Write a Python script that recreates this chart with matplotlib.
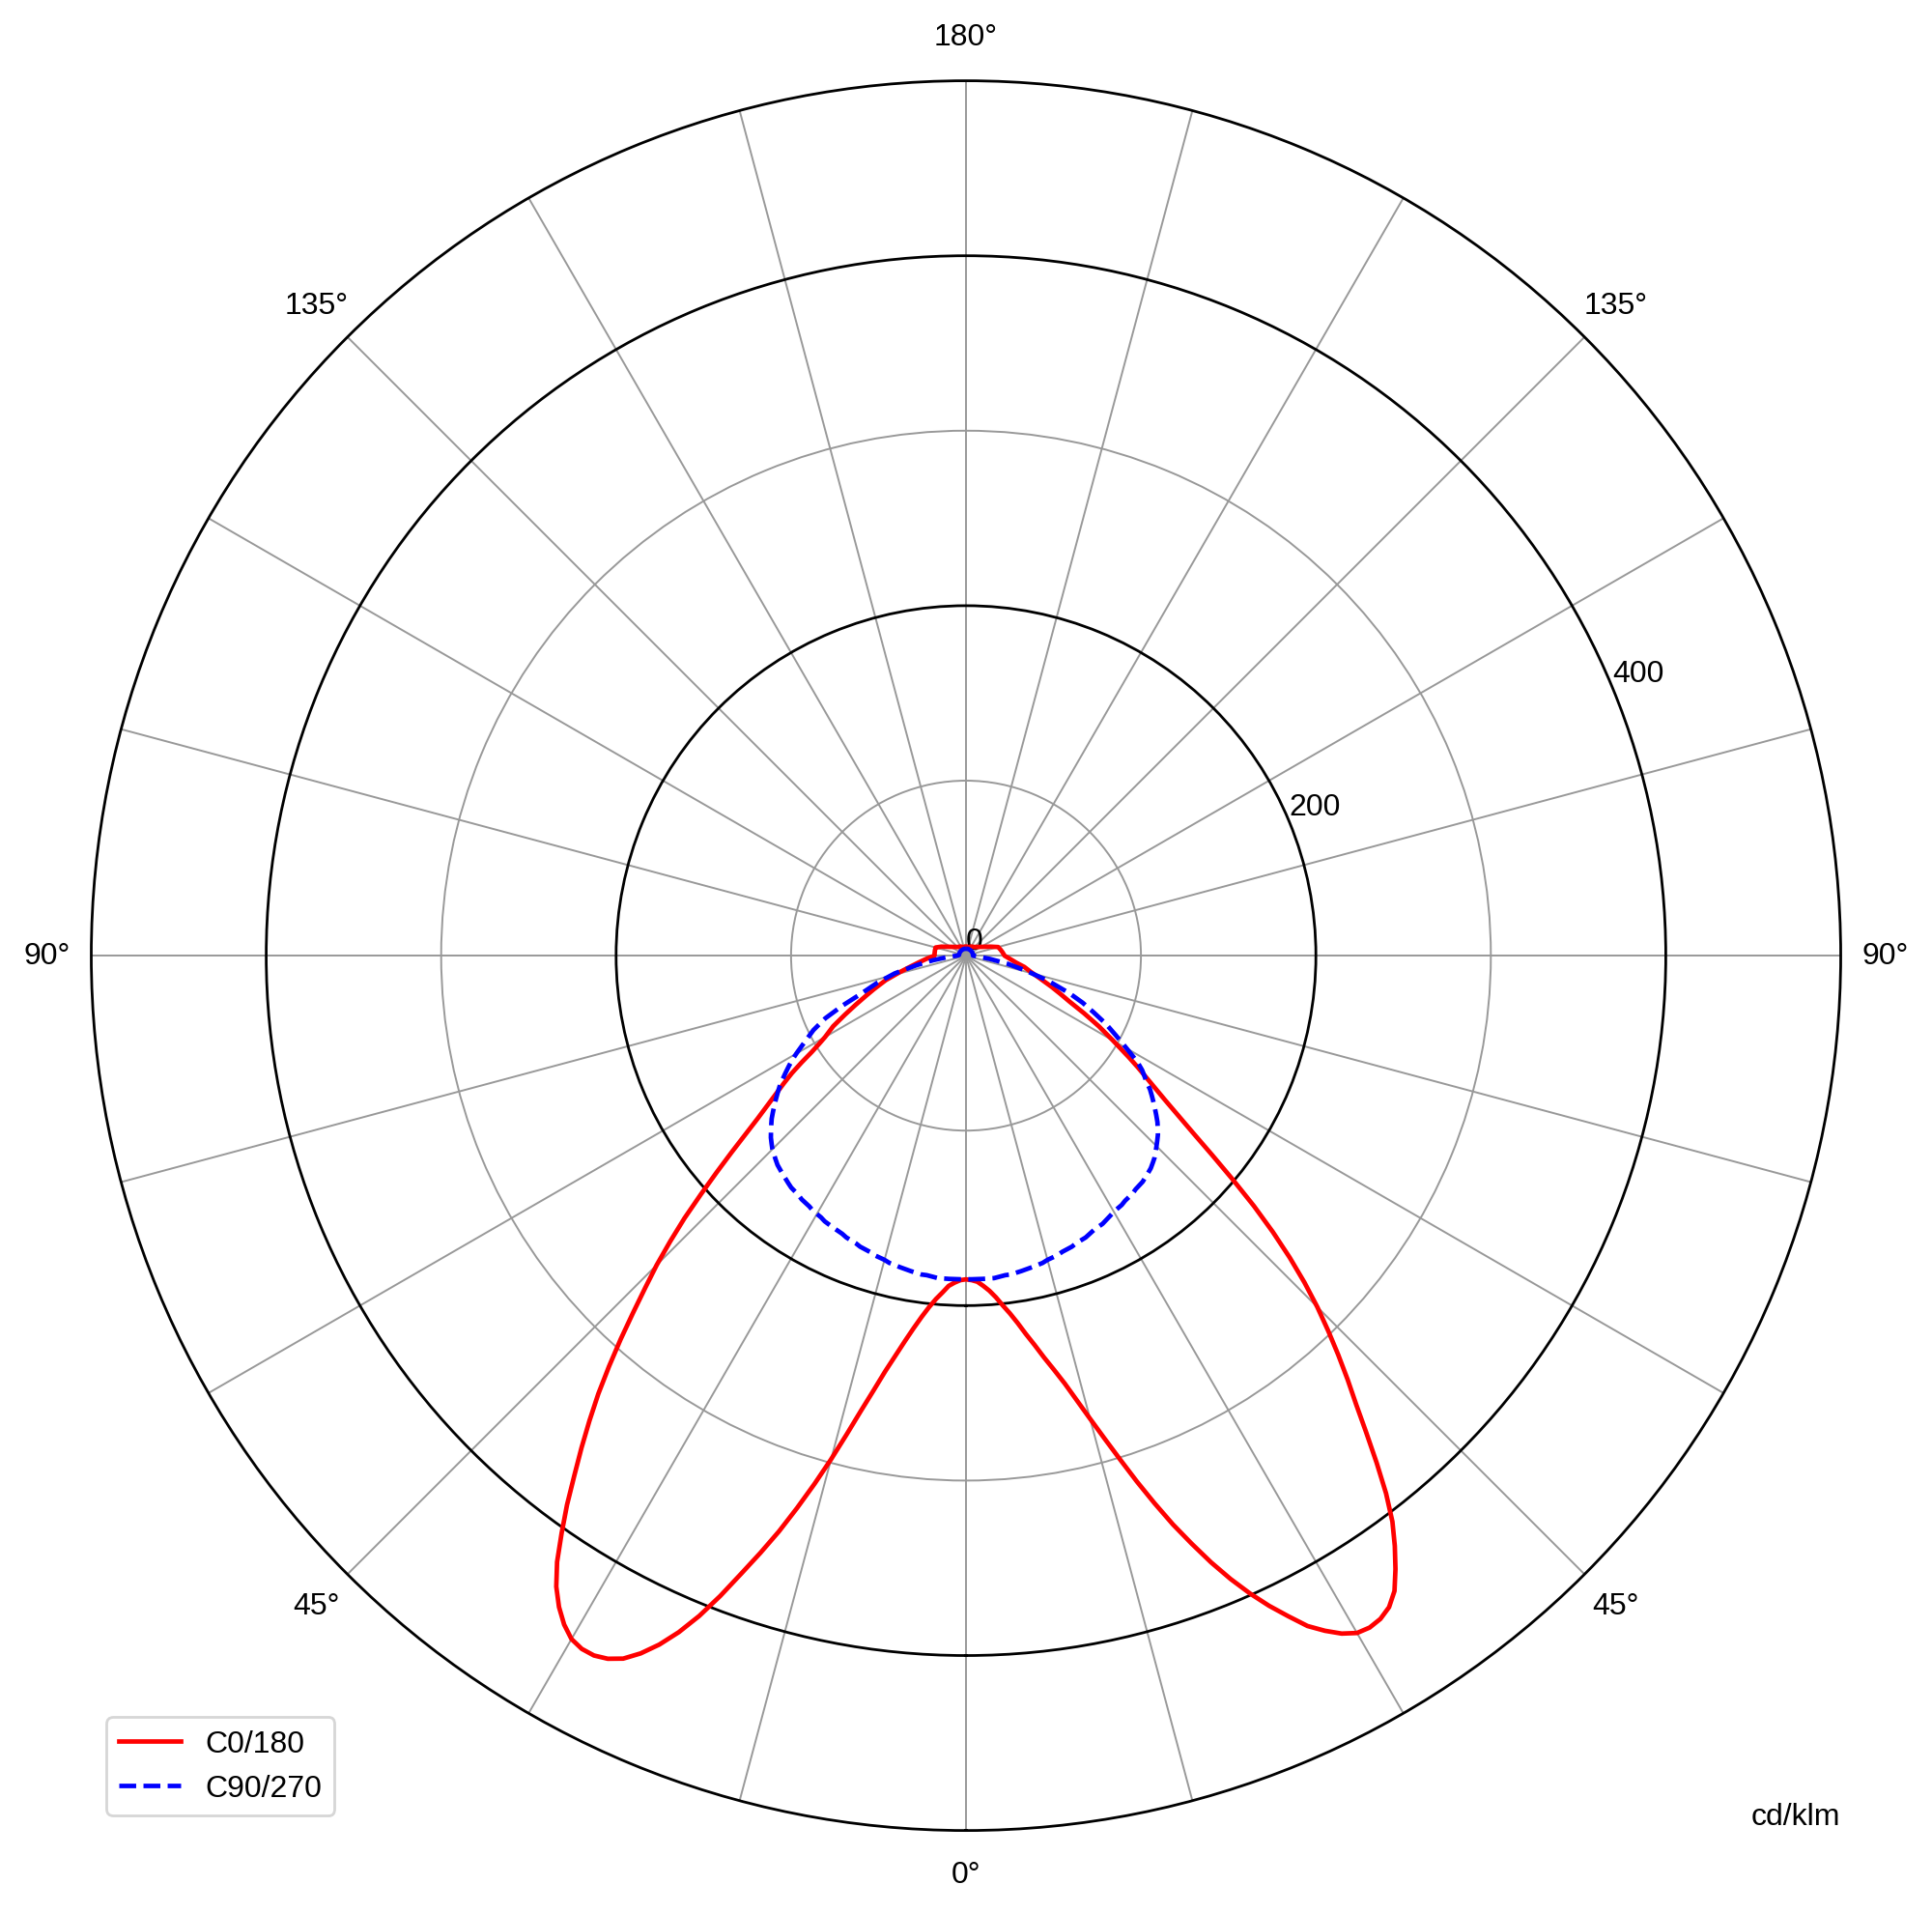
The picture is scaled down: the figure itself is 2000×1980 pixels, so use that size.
import numpy as np
import matplotlib
matplotlib.use("Agg")
import matplotlib.pyplot as plt

plt.rcParams['font.family'] = ['Liberation Sans', 'DejaVu Sans']

# gamma angles (degrees from nadir)
gamma = list(range(0, 61)) + [62, 64, 66, 68, 70, 73, 76, 79, 82, 86, 90, 95, 100,
                              105, 110, 120, 135, 150, 165, 180]

# C0/180 plane, cd/klm: C0 half (right) and C180 half (left)
c0 = [185, 185.5, 186.5, 189, 192, 196, 201, 206, 212, 219,
      226, 234, 242, 251, 262, 274, 287, 301, 316, 331,
      346, 360, 374, 387, 399, 410, 420, 430, 437, 443,
      447, 448, 447, 444, 438, 428, 417, 405, 390, 373,
      356, 340, 326, 312, 298, 284, 269, 253, 236, 218,
      199, 181, 165, 152, 141, 132, 124, 117, 110, 103,
      97,
      86, 75, 65, 58, 52, 44, 38, 34, 29, 25, 22, 21, 20,
      19, 15, 10, 7, 6, 5, 5]
c180 = [185, 185.5, 187, 189, 193, 197, 202, 208, 215, 223,
        232, 242, 254, 267, 282, 298, 314, 330, 346, 361,
        376, 392, 407, 420, 431, 440, 447, 451, 453, 453,
        451, 446, 439, 430, 418, 403, 388, 372, 357, 342,
        327, 311, 295, 279, 264, 250, 235, 220, 204, 189,
        175, 162, 151, 142, 134, 127, 120, 112, 104, 98,
        93,
        86, 77, 69, 62, 56, 48, 39, 32, 27, 22, 18, 18, 18,
        18, 15, 10, 7, 6, 5, 5]

# C90/270 plane, cd/klm
c90 = [185, 185, 185, 185, 185, 185, 184.5, 184, 184, 183.5,
       183, 182.5, 182, 181.5, 181, 180, 179.5, 179, 178, 177.5,
       177, 176, 175.5, 175, 174, 173, 172.5, 172, 171, 170,
       169, 168.5, 168, 167, 166.5, 166, 165, 164.5, 164, 163,
       162, 161, 159.5, 158, 156, 154, 152, 150, 147.5, 145,
       142, 139, 136, 133, 130, 126, 123, 120, 116, 111,
       106,
       97, 89, 80, 72, 63, 49, 35, 24, 14, 7, 4, 4, 4,
       4, 4, 4, 4, 4, 4, 4]
c270 = [185, 185, 185, 185, 185, 185, 184.5, 184, 184, 183.5,
        183, 182.5, 182, 181.5, 181, 180, 179.5, 179, 178, 177.5,
        177, 176, 175.5, 175, 174, 173.5, 173, 172.5, 172, 171,
        170.5, 170, 169, 168.5, 168, 167, 166.5, 166, 165, 164,
        163, 162, 161, 159.5, 158, 156.5, 154.5, 152.5, 150, 147.5,
        145, 142, 139, 136, 133, 130, 126.5, 123, 119.5, 116,
        112,
        104, 97, 88, 76, 64, 53, 42, 29, 19, 10, 5, 4, 4,
        4, 4, 4, 4, 4, 4, 4]

r_ticks = [0, 100, 200, 300, 400]
r_tick_labels = ['0', '', '200', '', '400']
r_max = 500
theta_ticks = list(range(0, 360, 15))
theta_named = {0: '0°', 45: '45°', 90: '90°', 135: '135°', 180: '180°',
               225: '135°', 270: '90°', 315: '45°'}
legend_labels = ['C0/180', 'C90/270']
unit_label = 'cd/klm'


def full_curve(right, left):
    g = np.array(gamma, dtype=float)
    th = np.concatenate([-g[::-1], g[1:]])
    r = np.concatenate([np.array(left, dtype=float)[::-1],
                        np.array(right, dtype=float)[1:]])
    return np.deg2rad(th), r


fig = plt.figure(figsize=(10, 9.905), dpi=200)
ax = fig.add_axes([0.0472, 0.0431, 0.9056, 0.9142], projection='polar')
ax.set_theta_zero_location('S')
ax.set_theta_direction(1)

th1, r1 = full_curve(c0, c180)
th2, r2 = full_curve(c90, c270)
ax.plot(th1, r1, color='#ff0000', lw=1.7, label=legend_labels[0], zorder=3)
ax.plot(th2, r2, color='#0000ff', lw=1.7, ls='--', label=legend_labels[1], zorder=4)

ax.set_thetagrids(theta_ticks, [theta_named.get(t, '') for t in theta_ticks],
                  fontsize=11.5)
ax.set_rgrids(r_ticks, r_tick_labels, angle=112.5, fontsize=11.5)
ax.set_rlim(0, r_max)
ax.tick_params(axis='x', pad=6)

for gl in ax.xaxis.get_gridlines():
    gl.set_color('#999999')
    gl.set_linewidth(0.7)
    gl.set_linestyle('-')
for t, tick in zip(r_ticks, ax.yaxis.get_major_ticks()):
    tick.gridline.set_linestyle('-')
    if t in (200, 400):
        tick.gridline.set_color('black')
        tick.gridline.set_linewidth(1.0)
    else:
        tick.gridline.set_color('#999999')
        tick.gridline.set_linewidth(0.7)

ax.spines['polar'].set_color('black')
ax.spines['polar'].set_linewidth(1.0)

ax.legend(loc='lower left', fontsize=11.5)
ax.text(1.0, 0.0, unit_label, transform=ax.transAxes, ha='right', va='bottom',
        fontsize=11.5)

fig.savefig('out.png', dpi=200)
